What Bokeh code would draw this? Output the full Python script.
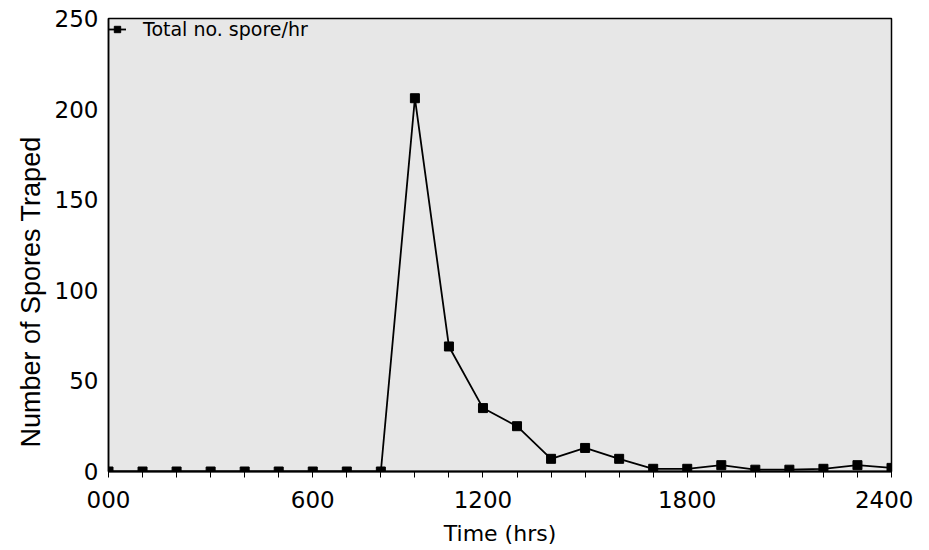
from bokeh.plotting import figure
from bokeh.models import Range1d, FixedTicker, Title, Legend, LegendItem, ColumnDataSource
from bokeh.embed import file_html
from bokeh.resources import INLINE

# Data: one sample per hour (24 samples across the day)
sample_index = list(range(24))
spore_counts = [0, 0, 0, 0, 0, 0, 0, 0, 0,
                206, 69, 35, 25, 7, 13, 7, 1.5, 1.5, 3.5, 1, 1, 1.5, 3.5, 2]
x_label_positions = [0, 6, 11, 17, 23]
x_tick_labels = ["000", "600", "1200", "1800", "2400"]
y_ticks = [0, 50, 100, 150, 200, 250]
series_name = "Total no. spore/hr"

src = ColumnDataSource(dict(x=sample_index, y=spore_counts))

p = figure(frame_width=783, frame_height=453,
           min_border_left=108, min_border_right=22, min_border_top=18, min_border_bottom=60,
           x_range=Range1d(0, 23), y_range=Range1d(0, 250),
           output_backend="svg", toolbar_location=None,
           background_fill_color="#e7e7e7", border_fill_color="white")

p.outline_line_color = "black"
p.outline_line_width = 1.5
p.grid.visible = False

ln = p.line("x", "y", source=src, line_color="black", line_width=1.8)
mk = p.scatter("x", "y", source=src, marker="square", size=9,
               fill_color="black", line_color="black")

overrides = {i: "" for i in sample_index}
for pos, lab in zip(x_label_positions, x_tick_labels):
    overrides[pos] = lab

xa = p.xaxis[0]
xa.ticker = FixedTicker(ticks=sample_index)
xa.major_label_overrides = overrides
xa.major_tick_out = 6
xa.major_tick_in = 0
xa.minor_tick_out = 0
xa.axis_line_width = 2
xa.major_label_text_font = "DejaVu Sans"
xa.major_label_text_font_size = "23px"
xa.major_label_text_color = "black"
xa.major_label_standoff = 13
xa.axis_label = "Time (hrs)"
xa.axis_label_text_font = "DejaVu Sans"
xa.axis_label_text_font_size = "22px"
xa.axis_label_text_font_style = "normal"
xa.axis_label_text_color = "black"
xa.axis_label_standoff = 10

ya = p.yaxis[0]
ya.ticker = FixedTicker(ticks=y_ticks)
ya.major_tick_out = 0
ya.major_tick_in = 0
ya.minor_tick_out = 0
ya.minor_tick_in = 0
ya.axis_line_width = 1.5
ya.major_label_text_font = "DejaVu Sans"
ya.major_label_text_font_size = "23px"
ya.major_label_text_color = "black"
ya.major_label_standoff = 10

ytitle = Title(text="Number of Spores Traped", align="left", offset=24,
               text_font="Liberation Sans", text_font_size="27px",
               text_font_style="normal", text_color="black", standoff=12)
p.add_layout(ytitle, "left")

legend = Legend(items=[LegendItem(label=series_name, renderers=[ln, mk])],
                location="top_left", margin=0, padding=5,
                glyph_width=18, glyph_height=16, label_standoff=17,
                label_text_font="DejaVu Sans", label_text_font_size="19px",
                label_text_color="black",
                border_line_color=None, background_fill_alpha=0)
p.add_layout(legend)

open("out.html", "w").write(file_html(p, INLINE))
